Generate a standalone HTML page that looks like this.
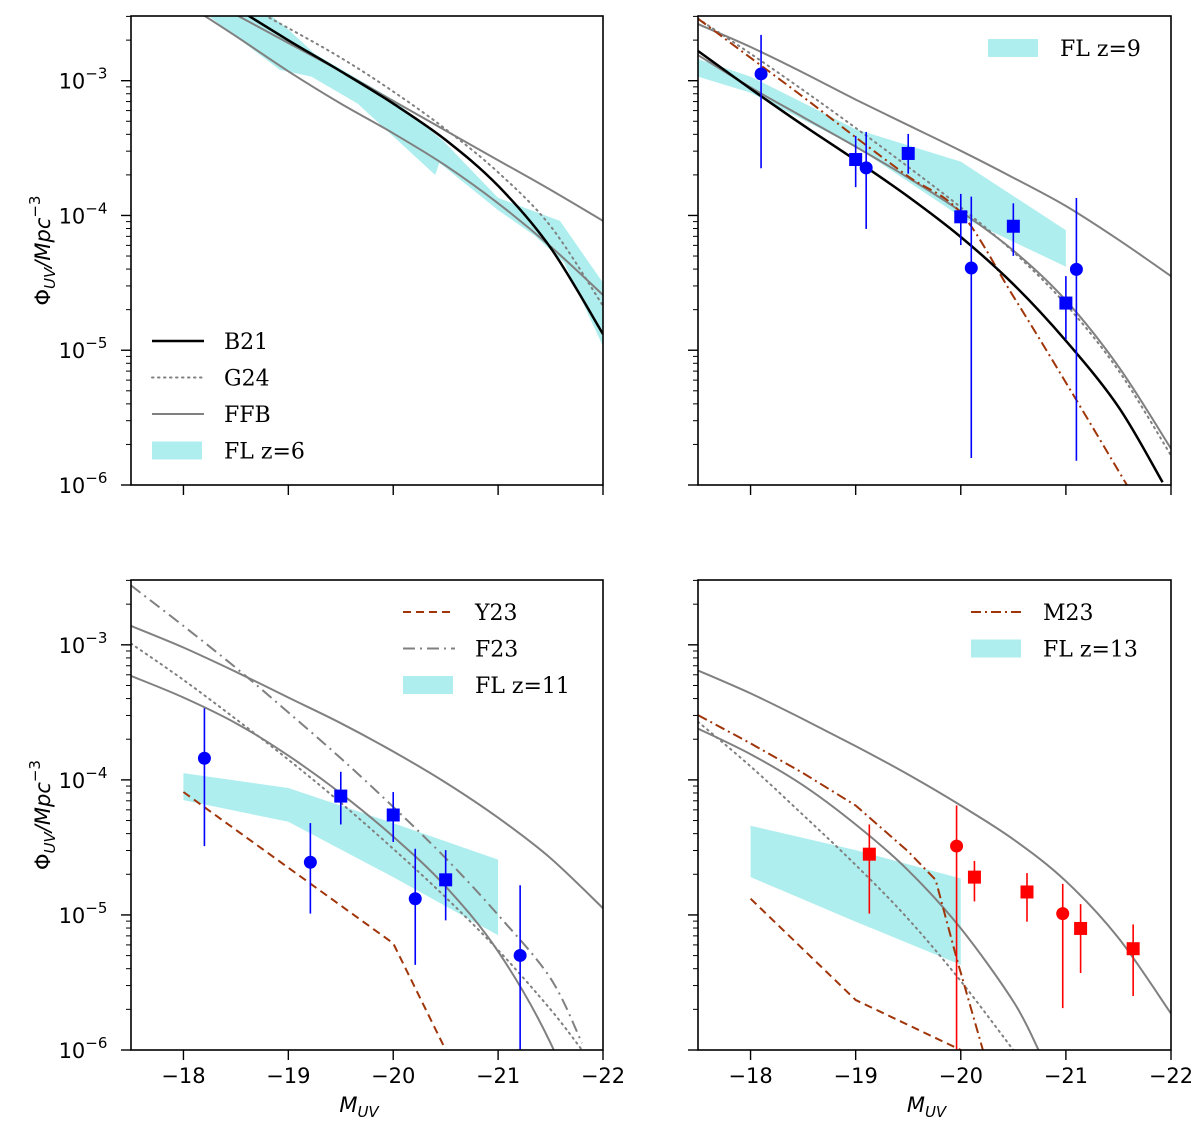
<!DOCTYPE html>
<html><head><meta charset="utf-8"><style>
html,body{margin:0;padding:0;background:#fff;}
svg text{font-family:"DejaVu Sans","Liberation Sans",sans-serif;}
.leg{font-family:"DejaVu Serif","Liberation Serif",serif;font-size:22px;}
</style></head><body>
<svg id="fig" width="1200" height="1131" viewBox="0 0 1200 1131" xmlns="http://www.w3.org/2000/svg"></svg>
<script>
// ---------- data (M_UV grid and log10 Phi) ----------
const gridM = [-17.5,-18,-18.5,-19,-19.5,-20,-20.5,-21,-21.5,-22];
// top-left (z=6)
const tlB21 = [-2.0,-2.22,-2.46,-2.70,-2.93,-3.17,-3.44,-3.78,-4.24,-4.88];
const tlG24 = [-2.0,-2.2,-2.40,-2.61,-2.83,-3.08,-3.36,-3.68,-4.08,-4.67];
const tlFFB1 = [-2.08,-2.30,-2.51,-2.72,-2.93,-3.15,-3.37,-3.59,-3.81,-4.04];
const tlFFB2 = [-2.2,-2.42,-2.67,-2.93,-3.17,-3.39,-3.63,-3.91,-4.23,-4.59];
const tlBandUpM = [-18.84,-19,-19.25,-20,-20.48,-21,-21.59,-22];
const tlBandUp = [-2.52,-2.62,-2.80,-3.14,-3.45,-3.87,-4.04,-4.50];
const tlBandLoM = [-18.24,-18.46,-18.92,-19.22,-19.66,-20.4,-20.44,-21,-21.35,-21.63,-22];
const tlBandLo = [-2.52,-2.65,-2.92,-2.97,-3.17,-3.70,-3.61,-3.96,-4.15,-4.35,-4.97];
// top-right (z=9)
const trFFB1 = [-2.58,-2.75,-2.94,-3.14,-3.33,-3.52,-3.72,-3.93,-4.18,-4.45];
const trFFB2 = [-2.81,-3.05,-3.27,-3.49,-3.72,-3.97,-4.26,-4.63,-5.12,-5.73];
const trG24 = [-2.54,-2.80,-3.07,-3.35,-3.64,-3.94,-4.27,-4.66,-5.15,-5.78];
const trB21M = [-17.5,-18,-18.5,-19,-19.5,-20,-20.5,-21,-21.5,-21.92];
const trB21 = [-2.78,-3.06,-3.33,-3.59,-3.86,-4.16,-4.51,-4.93,-5.42,-5.98];
const trM23M = [-17.5,-18,-18.5,-19,-19.5,-20,-20.5,-21,-21.58];
const trM23 = [-2.54,-2.83,-3.12,-3.42,-3.71,-3.98,-4.60,-5.24,-6.0];
const trBandM = [-17.5,-18,-19,-20,-21];
const trBandUp = [-2.84,-2.97,-3.36,-3.60,-4.11];
const trBandLo = [-2.97,-3.09,-3.49,-4.01,-4.38];
const trPtM = [-18.1,-19.0,-19.1,-19.5,-20.0,-20.1,-20.5,-21.0,-21.1];
const trPtV = [-2.95,-3.585,-3.647,-3.54,-4.01,-4.39,-4.08,-4.65,-4.40];
const trPtHi = [-2.66,-3.41,-3.38,-3.395,-3.84,-3.86,-3.91,-4.45,-3.87];
const trPtLo = [-3.65,-3.79,-4.10,-3.69,-4.22,-5.80,-4.30,-4.92,-5.82];
const trPtShape = ['o','s','o','s','s','o','s','s','o'];
// bottom-left (z=11)
const blFFB1 = [-2.86,-3.02,-3.20,-3.39,-3.58,-3.79,-4.02,-4.28,-4.58,-4.95];
const blFFB2 = [-3.23,-3.39,-3.58,-3.82,-4.10,-4.42,-4.79,-5.27,-5.95,-6.9];
const blG24M = [-17.5,-18,-18.5,-19,-19.5,-20,-20.5,-21,-21.5,-21.8];
const blG24 = [-2.99,-3.26,-3.55,-3.85,-4.17,-4.51,-4.87,-5.26,-5.70,-6.0];
const blF23M = [-17.5,-18,-18.5,-19,-19.5,-20,-20.5,-21,-21.5,-21.8];
const blF23 = [-2.56,-2.86,-3.17,-3.50,-3.84,-4.20,-4.58,-5.0,-5.47,-5.95];
const blY23M = [-18,-19,-20,-20.5];
const blY23 = [-4.09,-4.65,-5.21,-6.0];
const blBandM = [-18,-19,-20,-21];
const blBandUp = [-3.95,-4.06,-4.32,-4.59];
const blBandLo = [-4.15,-4.31,-4.72,-5.15];
const blPtM = [-18.2,-19.21,-19.5,-20.0,-20.21,-20.5,-21.21];
const blPtV = [-3.84,-4.61,-4.12,-4.26,-4.88,-4.74,-5.30];
const blPtHi = [-3.47,-4.32,-3.94,-4.09,-4.51,-4.52,-4.78];
const blPtLo = [-4.49,-4.99,-4.33,-4.46,-5.37,-5.04,-6.1];
const blPtShape = ['o','o','s','s','o','s','o'];
// bottom-right (z=13)
const brFFB1 = [-3.19,-3.36,-3.55,-3.75,-3.96,-4.19,-4.44,-4.75,-5.17,-5.73];
const brFFB2M = [-17.5,-18,-18.5,-19,-19.5,-20,-20.5,-20.74];
const brFFB2 = [-3.62,-3.81,-4.04,-4.33,-4.67,-5.10,-5.64,-6.0];
const brG24M = [-17.5,-18,-18.5,-19,-19.5,-20,-20.5];
const brG24 = [-3.57,-3.90,-4.26,-4.63,-5.03,-5.49,-6.0];
const brM23M = [-17.5,-18,-18.5,-19,-19.5,-19.76,-19.96,-20.21];
const brM23 = [-3.52,-3.73,-3.95,-4.19,-4.53,-4.74,-5.32,-6.0];
const brY23M = [-18,-19,-20];
const brY23 = [-4.88,-5.63,-6.0];
const brBandM = [-18,-19,-20];
const brBandUp = [-4.34,-4.52,-4.73];
const brBandLo = [-4.72,-5.05,-5.37];
const brPtM = [-19.13,-19.96,-20.13,-20.63,-20.97,-21.14,-21.64];
const brPtV = [-4.55,-4.49,-4.72,-4.83,-4.99,-5.10,-5.25];
const brPtHi = [-4.33,-4.19,-4.60,-4.69,-4.77,-4.92,-5.07];
const brPtLo = [-4.99,-6.0,-4.90,-5.05,-5.69,-5.43,-5.60];
const brPtShape = ['s','o','s','s','o','s','s'];
const xTicks = [-18,-19,-20,-21,-22];
const xTickLabels = ['\u221218','\u221219','\u221220','\u221221','\u221222'];
const yTicks = [-3,-4,-5,-6];
const yTickLabels = ['\u22123','\u22124','\u22125','\u22126'];

// ---------- rendering ----------
const NS='http://www.w3.org/2000/svg';
const svg=document.getElementById('fig');
function mk(tag,attrs,parent){const e=document.createElementNS(NS,tag);for(const k in attrs)e.setAttribute(k,attrs[k]);(parent||svg).appendChild(e);return e;}
const GRAY='#808080', BROWN='#a0350a', BAND='#afeeee';
const LMAX=-2.52;
function makePanel(id,x0,x1,y0,y1){
  const sx=m=>x0+(-17.5-m)/4.5*(x1-x0);
  const sy=l=>y1-(l+6)/(LMAX+6)*(y1-y0);
  const g=mk('g',{});
  
  
  const cp=mk('clipPath',{id:'clip-'+id},g);
  mk('rect',{x:x0,y:y0,width:x1-x0,height:y1-y0},cp);
  const plot=mk('g',{'clip-path':'url(#clip-'+id+')'},g);
  return {g,plot,sx,sy,x0,x1,y0,y1};
}
function smoothPath(P,xs,ys){
  const pts=xs.map((m,i)=>[P.sx(m),P.sy(ys[i])]);
  let d='M'+pts[0][0].toFixed(1)+','+pts[0][1].toFixed(1);
  for(let i=0;i<pts.length-1;i++){
    const p0=pts[i-1]||pts[i],p1=pts[i],p2=pts[i+1],p3=pts[i+2]||pts[i+1];
    const c1=[p1[0]+(p2[0]-p0[0])/6,p1[1]+(p2[1]-p0[1])/6];
    const c2=[p2[0]-(p3[0]-p1[0])/6,p2[1]-(p3[1]-p1[1])/6];
    d+=' C'+c1.map(v=>v.toFixed(1)).join(',')+' '+c2.map(v=>v.toFixed(1)).join(',')+' '+p2[0].toFixed(1)+','+p2[1].toFixed(1);
  }
  return d;
}
function polyPath(P,xs,ys){return xs.map((m,i)=>(i?'L':'M')+P.sx(m).toFixed(1)+','+P.sy(ys[i]).toFixed(1)).join(' ');}
function curve(P,name,xs,ys,style,smooth){
  const e=mk('path',Object.assign({d:smooth?smoothPath(P,xs,ys):polyPath(P,xs,ys),fill:'none'},style),P.plot);
  
  
}
function band(P,name,mu,up,ml,lo){
  let d=mu.map((m,i)=>(i?'L':'M')+P.sx(m).toFixed(1)+','+P.sy(up[i]).toFixed(1)).join(' ');
  for(let i=ml.length-1;i>=0;i--)d+=' L'+P.sx(ml[i]).toFixed(1)+','+P.sy(lo[i]).toFixed(1);
  const e=mk('path',{d:d+' Z',fill:BAND,stroke:'none'},P.plot);
  
  
}
function points(P,name,ms,vs,hi,lo,shapes,color){
  ms.forEach((m,i)=>{
    const x=P.sx(m),y=P.sy(vs[i]);
    const eb=mk('line',{x1:x,x2:x,y1:P.sy(hi[i]),y2:P.sy(lo[i]),stroke:color,'stroke-width':1.6},P.plot);
    
    
    let mkr;
    if(shapes[i]==='o') mkr=mk('circle',{cx:x,cy:y,r:6.5,fill:color},P.plot);
    else mkr=mk('rect',{x:x-6.5,y:y-6.5,width:13,height:13,fill:color},P.plot);
    
    
  });
}
function axes(P,showX,showY){
  const f=mk('rect',{x:P.x0,y:P.y0,width:P.x1-P.x0,height:P.y1-P.y0,fill:'none',stroke:'#000','stroke-width':1.6},P.g);
  
  
  xTicks.forEach((t,i)=>{
    const x=P.sx(t);
    mk('line',{x1:x,x2:x,y1:P.y1,y2:P.y1+10,stroke:'#000','stroke-width':1.4},P.g);
    if(showX){const tx=mk('text',{x:x,y:P.y1+33,'font-size':21,'text-anchor':'middle'},P.g);tx.textContent=xTickLabels[i];
      
      }
  });
  for(let k=-6;k<=-3;k++){
    for(let j=1;j<=9;j++){
      const l=k+Math.log10(j); if(l>LMAX) continue;
      const y=P.sy(l);
      mk('line',{x1:P.x0-(j===1?10:5),x2:P.x0,y1:y,y2:y,stroke:'#000','stroke-width':j===1?1.4:1},P.g);
    }
  }
  if(showY){
    yTicks.forEach((t,i)=>{
      const y=P.sy(t);
      const tx=mk('text',{x:P.x0-48,y:y+8,'font-size':21,'text-anchor':'middle'},P.g);
      
      
      tx.textContent='10';
      const s=mk('tspan',{dy:-10,'font-size':15},tx); s.textContent=yTickLabels[i];
    });
    const cy=(P.y0+P.y1)/2;
    const yl=mk('text',{x:0,y:0,'font-size':21,'text-anchor':'middle',transform:'translate(50,'+cy+') rotate(-90)'},P.g);
    
    
    yl.textContent='Φ';
    let s=mk('tspan',{dy:5,'font-size':15,'font-style':'italic'},yl); s.textContent='UV';
    s=mk('tspan',{dy:-5,'font-style':'italic'},yl); s.textContent='/Mpc';
    s=mk('tspan',{dy:-10,'font-size':15},yl); s.textContent='\u22123';
  }
  if(showX){
    const xl=mk('text',{x:(P.x0+P.x1)/2-8,y:P.y1+62,'font-size':21,'font-style':'italic','text-anchor':'middle'},P.g);
    
    
    xl.textContent='M';
    const s=mk('tspan',{dy:5,'font-size':15},xl); s.textContent='UV';
  }
}
function legend(P,items,lx,ly,dy){
  items.forEach((it,i)=>{
    const y=ly+i*dy;
    let e;
    if(it.type==='band') e=mk('rect',{x:lx,y:y-9,width:50,height:18,fill:BAND},P.g);
    else e=mk('line',Object.assign({x1:lx,x2:lx+52,y1:y,y2:y},it.style),P.g);
    
    
    const t=mk('text',{x:lx+72,y:y+8,class:'leg'},P.g);
    t.textContent=it.label;
    
    
  });
}
const sGray={stroke:GRAY,'stroke-width':2};
const sBlack={stroke:'#000','stroke-width':2.5};
const sDot={stroke:GRAY,'stroke-width':2,'stroke-dasharray':'1.5 4.5','stroke-linecap':'round'};
const sDashDot={stroke:BROWN,'stroke-width':2,'stroke-dasharray':'10 4 2 4'};
const sF23={stroke:GRAY,'stroke-width':2,'stroke-dasharray':'12 5 2 5'};
const sDash={stroke:BROWN,'stroke-width':2,'stroke-dasharray':'8 5'};

// Top-left
const TL=makePanel('panel-z6',131,603,16,485);
band(TL,'fl-band-z6',tlBandUpM,tlBandUp,tlBandLoM,tlBandLo);
curve(TL,'ffb-curve-upper',gridM,tlFFB1,sGray,true);
curve(TL,'ffb-curve-lower',gridM,tlFFB2,sGray,true);
curve(TL,'g24-curve',gridM,tlG24,sDot,true);
curve(TL,'b21-curve',gridM,tlB21,sBlack,true);
axes(TL,false,true);
legend(TL,[{label:'B21',style:sBlack},{label:'G24',style:sDot},{label:'FFB',style:sGray},{label:'FL z=6',type:'band'}],152,341,36.5);

// Top-right
const TR=makePanel('panel-z9',698,1171,16,485);
band(TR,'fl-band-z9',trBandM,trBandUp,trBandM,trBandLo);
curve(TR,'ffb-curve-upper',gridM,trFFB1,sGray,true);
curve(TR,'ffb-curve-lower',gridM,trFFB2,sGray,true);
curve(TR,'g24-curve',gridM,trG24,sDot,true);
curve(TR,'m23-curve',trM23M,trM23,sDashDot,true);
curve(TR,'b21-curve',trB21M,trB21,sBlack,true);
points(TR,'obs-z9',trPtM,trPtV,trPtHi,trPtLo,trPtShape,'#0000ff');
axes(TR,false,false);
legend(TR,[{label:'FL z=9',type:'band'}],988,48,36);

// Bottom-left
const BL=makePanel('panel-z11',131,603,580,1050);
band(BL,'fl-band-z11',blBandM,blBandUp,blBandM,blBandLo);
curve(BL,'ffb-curve-upper',gridM,blFFB1,sGray,true);
curve(BL,'ffb-curve-lower',gridM,blFFB2,sGray,true);
curve(BL,'g24-curve',blG24M,blG24,sDot,true);
curve(BL,'f23-curve',blF23M,blF23,sF23,true);
curve(BL,'y23-curve',blY23M,blY23,sDash,false);
points(BL,'obs-z11',blPtM,blPtV,blPtHi,blPtLo,blPtShape,'#0000ff');
axes(BL,true,true);
legend(BL,[{label:'Y23',style:sDash},{label:'F23',style:sF23},{label:'FL z=11',type:'band'}],403,612,36.5);

// Bottom-right
const BR=makePanel('panel-z13',698,1171,580,1050);
band(BR,'fl-band-z13',brBandM,brBandUp,brBandM,brBandLo);
curve(BR,'ffb-curve-upper',gridM,brFFB1,sGray,true);
curve(BR,'ffb-curve-lower',brFFB2M,brFFB2,sGray,true);
curve(BR,'g24-curve',brG24M,brG24,sDot,true);
curve(BR,'m23-curve',brM23M,brM23,sDashDot,false);
curve(BR,'y23-curve',brY23M,brY23,sDash,false);
points(BR,'obs-z13',brPtM,brPtV,brPtHi,brPtLo,brPtShape,'#ff0000');
axes(BR,true,false);
legend(BR,[{label:'M23',style:sDashDot},{label:'FL z=13',type:'band'}],971,612,36.5);
</script>
</body></html>
